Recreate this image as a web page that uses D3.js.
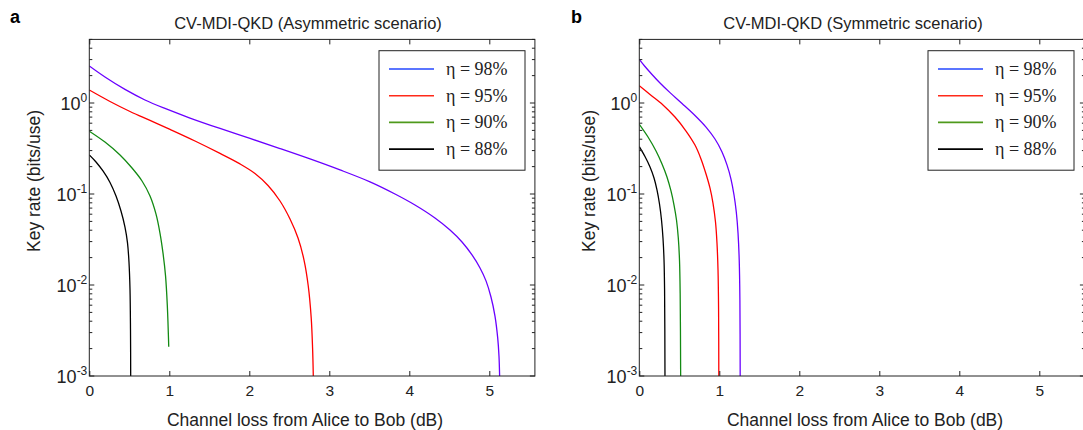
<!DOCTYPE html>
<html>
<head>
<meta charset="utf-8">
<script src="https://cdn.jsdelivr.net/npm/d3@7"></script>
<style>
  html, body { margin: 0; padding: 0; background: #fff; }
  svg { display: block; }
</style>
</head>
<body>
<svg id="chart" width="1083" height="430"></svg>
<script>
// ---------- data ----------
const seriesNames = ["η = 98%", "η = 95%", "η = 90%", "η = 88%"];
const panelTitles = ["CV-MDI-QKD (Asymmetric scenario)", "CV-MDI-QKD (Symmetric scenario)"];
const panelLetters = ["a", "b"];
const xTicks = [0, 1, 2, 3, 4, 5];
const yTickExps = [-3, -2, -1, 0];

// Asymmetric scenario (loss dB, key rate)
const asym98_x = [0, 0.196, 0.446, 0.696, 0.946, 1.259, 1.634, 2.009, 2.384, 2.759, 3.134, 3.509, 3.821, 4.071, 4.321, 4.509, 4.659, 4.784, 4.884, 4.959, 5.021, 5.071, 5.105, 5.121, 5.129];
const asym98_y = [2.55, 1.93, 1.41, 1.08, 0.871, 0.684, 0.525, 0.408, 0.316, 0.243, 0.184, 0.136, 0.1, 0.0757, 0.0545, 0.0402, 0.0297, 0.0214, 0.0154, 0.0111, 0.00738, 0.00456, 0.00262, 0.00166, 0.001];
const asym95_x = [0, 0.259, 0.509, 0.759, 1.009, 1.321, 1.634, 1.884, 2.071, 2.234, 2.384, 2.509, 2.609, 2.684, 2.737, 2.774, 2.791, 2.8];
const asym95_y = [1.39, 1.04, 0.807, 0.643, 0.512, 0.382, 0.279, 0.214, 0.168, 0.124, 0.0838, 0.0531, 0.0328, 0.0188, 0.00975, 0.00433, 0.00203, 0.001];
const asym90_x = [0, 0.196, 0.384, 0.534, 0.659, 0.759, 0.834, 0.884, 0.921, 0.953, 0.975, 0.993];
const asym90_y = [0.49, 0.372, 0.268, 0.193, 0.139, 0.095, 0.06, 0.037, 0.0225, 0.0126, 0.006, 0.0021];
const asym88_x = [0, 0.084, 0.171, 0.259, 0.334, 0.396, 0.446, 0.4775, 0.496, 0.509, 0.515, 0.5175];
const asym88_y = [0.269, 0.225, 0.179, 0.134, 0.095, 0.065, 0.0433, 0.029, 0.0179, 0.0088, 0.0032, 0.001];

// Symmetric scenario
const sym98_x = [0, 0.071, 0.159, 0.259, 0.384, 0.534, 0.696, 0.834, 0.946, 1.034, 1.096, 1.146, 1.184, 1.2125, 1.234, 1.249, 1.2575, 1.261];
const sym98_y = [3.02, 2.52, 2.06, 1.66, 1.30, 0.989, 0.73, 0.544, 0.402, 0.29, 0.209, 0.146, 0.0975, 0.0634, 0.0372, 0.0188, 0.00684, 0.001];
const sym95_x = [0, 0.134, 0.296, 0.446, 0.584, 0.696, 0.771, 0.834, 0.884, 0.921, 0.9525, 0.971, 0.984, 0.991, 0.994];
const sym95_y = [1.55, 1.24, 0.951, 0.701, 0.492, 0.345, 0.243, 0.166, 0.116, 0.0796, 0.0492, 0.029, 0.0146, 0.0053, 0.001];
const sym90_x = [0, 0.109, 0.209, 0.284, 0.346, 0.396, 0.434, 0.465, 0.4875, 0.5025, 0.511, 0.517];
const sym90_y = [0.583, 0.423, 0.297, 0.214, 0.154, 0.108, 0.0757, 0.0518, 0.0328, 0.0188, 0.00776, 0.001];
const sym88_x = [0, 0.071, 0.134, 0.184, 0.221, 0.2525, 0.2775, 0.296, 0.309, 0.316, 0.321];
const sym88_y = [0.331, 0.258, 0.198, 0.15, 0.111, 0.0776, 0.0518, 0.0328, 0.0188, 0.0088, 0.001];

// ---------- styles ----------
const lineColors = ["#6a00ff", "#ff0000", "#138a13", "#000000"];
const legendColors = ["#2447ff", "#ff2a1a", "#4f9a1c", "#000000"];
const sansFont = "'Liberation Sans', Arial, Helvetica, sans-serif";
const serifFont = "'Liberation Serif', 'Times New Roman', serif";

const panels = [
  { left: 89.3, series: [[asym98_x, asym98_y], [asym95_x, asym95_y], [asym90_x, asym90_y], [asym88_x, asym88_y]],
    ylabelX: 34, xlabelX: 305, titleX: 308, letterX: 10, legendX: 379 },
  { left: 639.3, series: [[sym98_x, sym98_y], [sym95_x, sym95_y], [sym90_x, sym90_y], [sym88_x, sym88_y]],
    ylabelX: 589, xlabelX: 865, titleX: 853, letterX: 571, legendX: 928 }
];

const svg = d3.select("#chart");
const plotTop = 39.4, plotBottom = 376, xMax = 5.57, pxPerUnit = 80;

panels.forEach((p, pi) => {
  const right = p.left + xMax * pxPerUnit;
  const x = d3.scaleLinear().domain([0, xMax]).range([p.left, right]);
  const y = d3.scaleLog().domain([1e-3, 5]).range([plotBottom, plotTop]);
  const g = svg.append("g");

  const clipId = "clip" + pi;
  g.append("clipPath").attr("id", clipId).append("rect")
    .attr("x", p.left).attr("y", plotTop).attr("width", right - p.left).attr("height", plotBottom - plotTop);

  // lines
  const line = d3.line().x(d => x(d[0])).y(d => y(d[1])).curve(d3.curveCatmullRom.alpha(0.5));
  p.series.forEach((s, si) => {
    const pts = s[0].map((v, i) => [v, s[1][i]]);
    g.append("path").attr("d", line(pts)).attr("fill", "none")
      .attr("stroke", lineColors[si]).attr("stroke-width", 1.3)
      .attr("clip-path", `url(#${clipId})`);
  });

  // frame
  g.append("rect").attr("x", p.left).attr("y", plotTop).attr("width", right - p.left).attr("height", plotBottom - plotTop)
    .attr("fill", "none").attr("stroke", "#222").attr("stroke-width", 1);

  // x ticks (bottom + top, inward)
  const xAxisB = d3.axisBottom(x).tickValues(xTicks).tickSizeInner(-5).tickSizeOuter(0).tickPadding(9).tickFormat(d3.format("d"));
  const gb = g.append("g").attr("transform", `translate(0,${plotBottom})`).call(xAxisB);
  gb.select(".domain").remove();
  gb.selectAll("line").attr("stroke", "#222");
  gb.selectAll("text").style("font-size", "15.5px").style("font-family", sansFont).style("fill", "#222");
  const xAxisT = d3.axisTop(x).tickValues(xTicks).tickSizeInner(-5).tickSizeOuter(0).tickFormat("");
  const gt = g.append("g").attr("transform", `translate(0,${plotTop})`).call(xAxisT);
  gt.select(".domain").remove();
  gt.selectAll("line").attr("stroke", "#222");

  // y ticks: major + minor, left and right, inward
  const minor = [];
  for (let e = -3; e <= 0; e++) for (let m = 2; m <= 9; m++) { const v = m * Math.pow(10, e); if (v <= 5) minor.push(v); }
  const majors = yTickExps.map(e => Math.pow(10, e));
  [[p.left, 1], [right, -1]].forEach(([ax, dir]) => {
    g.selectAll(null).data(majors).enter().append("line")
      .attr("x1", ax).attr("x2", ax + dir * 5).attr("y1", d => y(d)).attr("y2", d => y(d))
      .attr("stroke", "#222").attr("stroke-width", 1);
    g.selectAll(null).data(minor).enter().append("line")
      .attr("x1", ax).attr("x2", ax + dir * 3).attr("y1", d => y(d)).attr("y2", d => y(d))
      .attr("stroke", "#222").attr("stroke-width", 1);
  });

  // y tick labels 10^e
  yTickExps.forEach(e => {
    const t = g.append("text").attr("x", p.left - 2).attr("y", y(Math.pow(10, e)) + 7)
      .attr("text-anchor", "end").style("font-family", sansFont).style("font-size", "18px").style("fill", "#222");
    t.append("tspan").text("10");
    t.append("tspan").style("font-size", "12px").attr("dy", -8).text(e === 0 ? "0" : "-" + Math.abs(e));
  });

  // axis labels
  g.append("text").attr("x", p.xlabelX).attr("y", 426).attr("text-anchor", "middle")
    .style("font-family", sansFont).style("font-size", "17.5px").style("fill", "#222")
    .text("Channel loss from Alice to Bob (dB)");
  g.append("text").attr("transform", `translate(${p.ylabelX + 6},181) rotate(-90)`).attr("text-anchor", "middle")
    .style("font-family", sansFont).style("font-size", "17.5px").style("fill", "#222")
    .text("Key rate (bits/use)");

  // title and panel letter
  g.append("text").attr("x", p.titleX).attr("y", 29).attr("text-anchor", "middle")
    .style("font-family", sansFont).style("font-size", "16.5px").style("fill", "#222")
    .text(panelTitles[pi]);
  g.append("text").attr("x", p.letterX).attr("y", 23)
    .style("font-family", sansFont).style("font-size", "18px").style("font-weight", "bold").style("fill", "#000")
    .text(panelLetters[pi]);

  // legend
  const lg = g.append("g");
  lg.append("rect").attr("x", p.legendX).attr("y", 50.7).attr("width", 146).attr("height", 119.5)
    .attr("fill", "#fff").attr("stroke", "#222").attr("stroke-width", 1);
  seriesNames.forEach((name, i) => {
    const ly = 69 + i * 26.7;
    lg.append("line").attr("x1", p.legendX + 10).attr("x2", p.legendX + 55).attr("y1", ly).attr("y2", ly)
      .attr("stroke", legendColors[i]).attr("stroke-width", 1.6);
    lg.append("text").attr("x", p.legendX + 67).attr("y", ly + 6)
      .style("font-family", serifFont).style("font-size", "18px").style("fill", "#222")
      .text(name);
  });
});
</script>
</body>
</html>
